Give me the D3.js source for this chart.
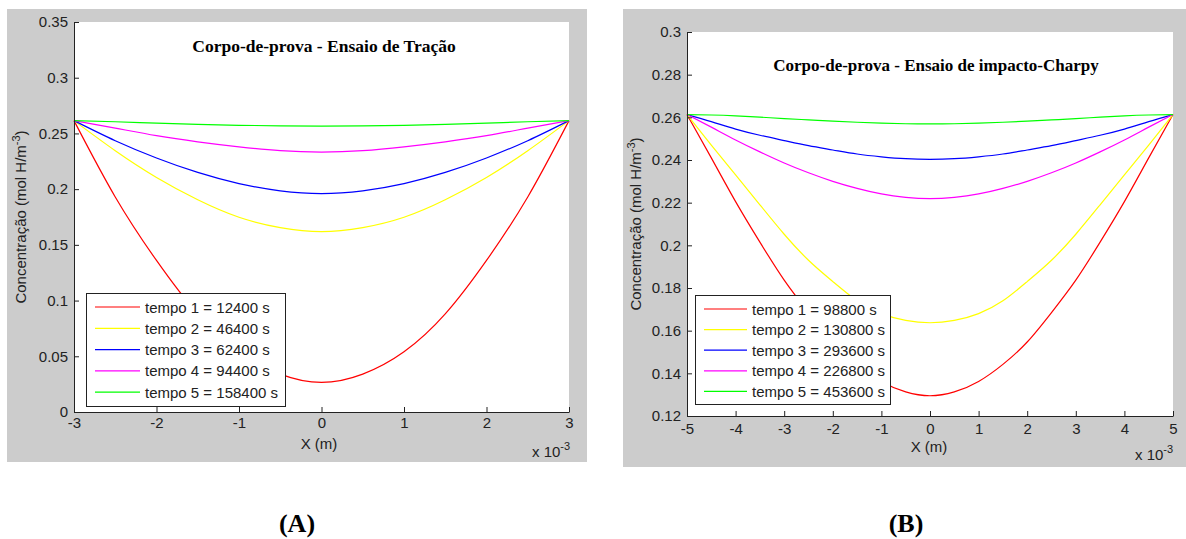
<!DOCTYPE html>
<html><head><meta charset="utf-8">
<script src="https://cdn.jsdelivr.net/npm/d3@7"></script>
<style>body{margin:0;background:#fff}</style>
</head><body>
<svg id="c" width="1186" height="539"></svg>
<script>
// ---------- Panel A data (x in metres) ----------
const xA = [-0.003,-0.0025,-0.002,-0.0015,-0.001,-0.0005,0,0.0005,0.001,0.0015,0.002,0.0025,0.003];
const a1 = [0.2615,0.193,0.136,0.088,0.054,0.034,0.0265,0.034,0.054,0.088,0.136,0.193,0.2615];
const a2 = [0.2615,0.2345,0.2105,0.1905,0.1748,0.1655,0.1618,0.1655,0.1748,0.1905,0.2105,0.2345,0.2615];
const a3 = [0.2615,0.2435,0.228,0.215,0.205,0.1985,0.196,0.1985,0.205,0.215,0.228,0.2435,0.2615];
const a4 = [0.2615,0.2548,0.248,0.2425,0.238,0.2345,0.2332,0.2345,0.238,0.2425,0.248,0.2548,0.2615];
const a5 = [0.2615,0.2605,0.2592,0.2581,0.2573,0.2568,0.2566,0.2568,0.2573,0.2581,0.2592,0.2605,0.2615];
const legendA = ["tempo 1 = 12400 s","tempo 2 = 46400 s","tempo 3 = 62400 s","tempo 4 = 94400 s","tempo 5 = 158400 s"];
const xTicksA = [-0.003,-0.002,-0.001,0,0.001,0.002,0.003];
const xTickLabelsA = ["-3","-2","-1","0","1","2","3"];
const yTicksA = [0,0.05,0.1,0.15,0.2,0.25,0.3,0.35];
const yTickLabelsA = ["0","0.05","0.1","0.15","0.2","0.25","0.3","0.35"];
const titleA = "Corpo-de-prova - Ensaio de Tração";

// ---------- Panel B data ----------
const xB = [-0.005,-0.0045,-0.004,-0.0035,-0.003,-0.0025,-0.002,-0.0015,-0.001,-0.0005,0,0.0005,0.001,0.0015,0.002,0.0025,0.003,0.0035,0.004,0.0045,0.005];
const b1 = [0.2613,0.241,0.2205,0.2015,0.1837,0.1685,0.1547,0.1442,0.1362,0.1313,0.1295,0.1313,0.1362,0.1442,0.1547,0.1685,0.1837,0.2015,0.2205,0.241,0.2613];
const b2 = [0.2613,0.247,0.233,0.219,0.2052,0.193,0.183,0.174,0.168,0.1648,0.1637,0.1648,0.168,0.174,0.183,0.193,0.2052,0.219,0.233,0.247,0.2613];
const b3 = [0.2613,0.258,0.2545,0.2516,0.2491,0.2467,0.2447,0.2428,0.2415,0.2406,0.2403,0.2406,0.2415,0.2428,0.2447,0.2467,0.2491,0.2516,0.2545,0.258,0.2613];
const b4 = [0.2613,0.2554,0.2494,0.2438,0.2386,0.234,0.23,0.2267,0.2241,0.2225,0.2219,0.2225,0.2241,0.2267,0.23,0.234,0.2386,0.2438,0.2494,0.2554,0.2613];
const b5 = [0.2613,0.2611,0.2607,0.2601,0.2594,0.2588,0.2582,0.2577,0.2573,0.257,0.2569,0.257,0.2573,0.2577,0.2582,0.2588,0.2594,0.2601,0.2607,0.2611,0.2613];
const legendB = ["tempo 1 = 98800 s","tempo 2 = 130800 s","tempo 3 = 293600 s","tempo 4 = 226800 s","tempo 5 = 453600 s"];
const xTicksB = [-0.005,-0.004,-0.003,-0.002,-0.001,0,0.001,0.002,0.003,0.004,0.005];
const xTickLabelsB = ["-5","-4","-3","-2","-1","0","1","2","3","4","5"];
const yTicksB = [0.12,0.14,0.16,0.18,0.2,0.22,0.24,0.26,0.28,0.3];
const yTickLabelsB = ["0.12","0.14","0.16","0.18","0.2","0.22","0.24","0.26","0.28","0.3"];
const titleB = "Corpo-de-prova - Ensaio de impacto-Charpy";

const colors = ["#ff0000","#ffff00","#0000ff","#ff00ff","#00ff00"];
const xLabel = "X (m)";
const yLabel = "Concentração (mol H/m";
const panelLabels = ["(A)","(B)"];

const svg = d3.select("#c");
const SANS = "'Liberation Sans', Arial, sans-serif";
const SERIF = "'Liberation Serif', 'Times New Roman', serif";

function panel(cfg){
  const g = svg.append("g");
  g.append("rect").attr("x",cfg.bg[0]).attr("y",cfg.bg[1]).attr("width",cfg.bg[2]).attr("height",cfg.bg[3]).attr("fill","#cccccc");
  const [L,T,R,B] = cfg.plot;
  g.append("rect").attr("x",L).attr("y",T).attr("width",R-L).attr("height",B-T).attr("fill","#fff");
  const x = d3.scaleLinear().domain(cfg.xdom).range([L,R]);
  const y = d3.scaleLinear().domain(cfg.ydom).range([B,T]);

  const line = d3.line().x((d,i)=>x(cfg.xs[i])).y(d=>y(d)).curve(d3.curveNatural);
  cfg.series.forEach((s,k)=>{
    g.append("path").attr("d",line(s)).attr("fill","none").attr("stroke",colors[k]).attr("stroke-width",1.2);
  });

  const ax = g.append("g").attr("transform",`translate(0,${B})`)
    .call(d3.axisBottom(x).tickValues(cfg.xt).tickFormat((d,i)=>cfg.xtl[i]).tickSizeInner(-5).tickSizeOuter(0).tickPadding(cfg.xpad));
  const ay = g.append("g").attr("transform",`translate(${L},0)`)
    .call(d3.axisLeft(y).tickValues(cfg.yt).tickFormat((d,i)=>cfg.ytl[i]).tickSizeInner(-5).tickSizeOuter(0).tickPadding(6));
  [ax,ay].forEach(a=>{
    a.selectAll("text").attr("font-family",SANS).attr("font-size",15).attr("fill","#222");
    a.selectAll("line,path").attr("stroke","#222");
  });

  // title
  g.append("text").attr("x",cfg.title[1]).attr("y",cfg.title[2]).attr("text-anchor","middle")
    .attr("font-family",SERIF).attr("font-weight","bold").attr("font-size",cfg.title[3]).attr("fill","#000").text(cfg.title[0]);

  // x label
  g.append("text").attr("x",cfg.xl[0]).attr("y",cfg.xl[1]).attr("text-anchor","middle")
    .attr("font-family",SANS).attr("font-size",15).attr("fill","#222").text(xLabel);
  // multiplier
  const m = g.append("text").attr("x",cfg.mult[0]).attr("y",cfg.mult[1])
    .attr("font-family",SANS).attr("font-size",15).attr("fill","#222");
  m.append("tspan").text("x 10");
  m.append("tspan").attr("font-size",11).attr("dy",-7).text("-3");

  // y label
  const yl = g.append("text").attr("transform",`translate(${cfg.yl[0]},${cfg.yl[1]}) rotate(-90)`)
    .attr("text-anchor","middle").attr("font-family",SANS).attr("font-size",15).attr("fill","#222");
  yl.append("tspan").text(yLabel);
  yl.append("tspan").attr("font-size",11).attr("dy",-6).text("-3");
  yl.append("tspan").attr("dy",6).text(")");

  // legend
  const [lx0,ly0,lx1,ly1] = cfg.leg;
  const lg = g.append("g");
  lg.append("rect").attr("x",lx0+0.5).attr("y",ly0+0.5).attr("width",lx1-lx0).attr("height",ly1-ly0)
    .attr("fill","#fff").attr("stroke","#222").attr("stroke-width",1);
  cfg.labels.forEach((t,k)=>{
    const yy = cfg.legRows[0] + k*cfg.legRows[1];
    lg.append("line").attr("x1",cfg.legLine[0]).attr("x2",cfg.legLine[1]).attr("y1",yy).attr("y2",yy)
      .attr("stroke",colors[k]).attr("stroke-width",1.2);
    lg.append("text").attr("x",cfg.legLine[2]).attr("y",yy+5.5).attr("font-family",SANS).attr("font-size",15)
      .attr("fill","#222").text(t);
  });

  // panel label
  g.append("text").attr("x",cfg.pl[1]).attr("y",cfg.pl[2]).attr("text-anchor","middle")
    .attr("font-family",SERIF).attr("font-weight","bold").attr("font-size",26).attr("fill","#000").text(cfg.pl[0]);
}

panel({
  bg:[7,9,580,453], plot:[74,22,569,412],
  xdom:[-0.003,0.003], ydom:[0,0.35], xs:xA, series:[a1,a2,a3,a4,a5],
  xt:xTicksA, xtl:xTickLabelsA, yt:yTicksA, ytl:yTickLabelsA, xpad:5,
  title:[titleA,324,52,17.5], xl:[319,449], mult:[532,457], yl:[26,217],
  leg:[86,293,285,406], legRows:[307,21.3], legLine:[95,140,145], labels:legendA,
  pl:[panelLabels[0],297,532]
});
panel({
  bg:[623,9,563,458], plot:[687,32,1173,416],
  xdom:[-0.005,0.005], ydom:[0.12,0.3], xs:xB, series:[b1,b2,b3,b4,b5],
  xt:xTicksB, xtl:xTickLabelsB, yt:yTicksB, ytl:yTickLabelsB, xpad:7,
  title:[titleB,936,71,17], xl:[929,452], mult:[1135,460], yl:[641,224],
  leg:[695,295,890,404], legRows:[309,20.6], legLine:[704,747,752], labels:legendB,
  pl:[panelLabels[1],906,532]
});
</script>
</body></html>
